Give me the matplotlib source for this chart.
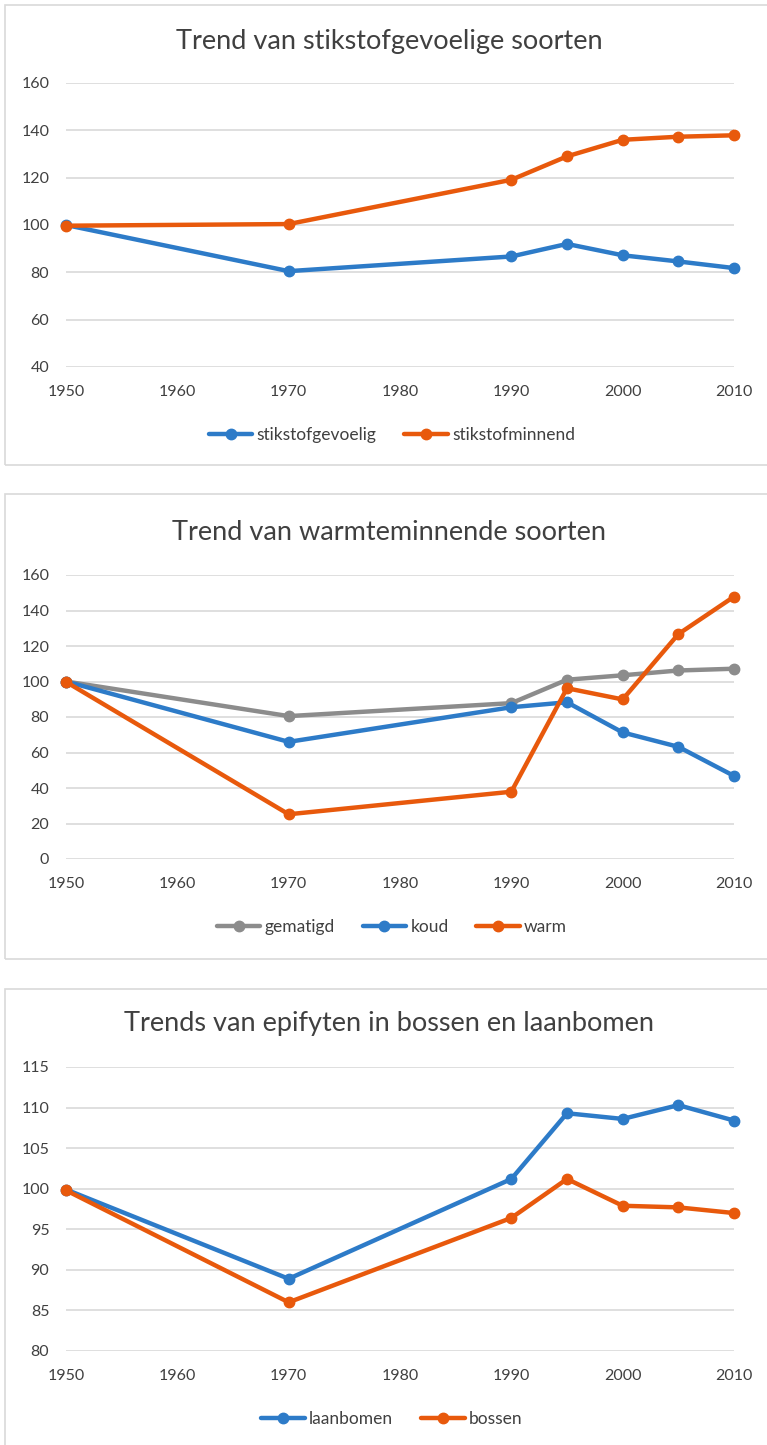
import matplotlib
matplotlib.use("Agg")
import matplotlib.pyplot as plt
from matplotlib.patches import Rectangle

plt.rcParams['font.family'] = ['Lato', 'DejaVu Sans']

W, H = 767, 1445
DPI = 100

years = [1950, 1970, 1990, 1995, 2000, 2005, 2010]

# Panel 1
title1 = "Trend van stikstofgevoelige soorten"
stikstofgevoelig = [100, 80.5, 86.7, 92.0, 87.2, 84.6, 81.8]
stikstofminnend = [99.7, 100.4, 119.1, 129.0, 136.0, 137.3, 137.9]
yticks1 = [40, 60, 80, 100, 120, 140, 160]

# Panel 2
title2 = "Trend van warmteminnende soorten"
gematigd = [100, 80.5, 87.8, 101.0, 103.5, 106.2, 107.2]
koud = [100, 66.0, 85.5, 88.3, 71.3, 63.2, 46.8]
warm = [99.8, 25.2, 37.9, 96.2, 89.9, 126.7, 147.8]
yticks2 = [0, 20, 40, 60, 80, 100, 120, 140, 160]

# Panel 3
title3 = "Trends van epifyten in bossen en laanbomen"
laanbomen = [99.9, 88.9, 101.2, 109.3, 108.6, 110.3, 108.4]
bossen = [99.8, 86.0, 96.4, 101.2, 97.9, 97.7, 97.0]
yticks3 = [80, 85, 90, 95, 100, 105, 110, 115]

xticks = [1950, 1960, 1970, 1980, 1990, 2000, 2010]

BLUE = '#2D7BC8'
ORANGE = '#E8590C'
GRAY = '#8C8C8C'
TXT = '#404040'
GRID = '#D9D9D9'

fig = plt.figure(figsize=(W / DPI, H / DPI), dpi=DPI)
fig.patch.set_facecolor('white')


def fx(px):
    return px / W


def fy(py):
    return 1 - py / H


def panel_box(top, bottom):
    r = Rectangle((fx(5), fy(bottom)), fx(W + 20) - fx(5), fy(top) - fy(bottom),
                  transform=fig.transFigure, fill=False, edgecolor=GRID,
                  linewidth=1.2, zorder=0)
    fig.patches.append(r)


def panel(top_px, bottom_px, title, title_y, series, yticks, legend_y):
    left, right = 66, 734
    ax = fig.add_axes([fx(left), fy(bottom_px), fx(right) - fx(left), (bottom_px - top_px) / H])
    for name, vals, col in series:
        ax.plot(years, vals, color=col, linewidth=3.2, marker='o', markersize=7.5,
                label=name, solid_capstyle='round', zorder=3, clip_on=False)
    ax.set_xlim(1950, 2010)
    ax.set_ylim(yticks[0], yticks[-1])
    ax.set_xticks(xticks)
    ax.set_yticks(yticks)
    ax.yaxis.grid(True, color=GRID, linewidth=1.2)
    ax.set_axisbelow(True)
    for s in ax.spines.values():
        s.set_visible(False)
    ax.tick_params(axis='both', length=0, labelsize=11.5, colors=TXT)
    ax.tick_params(axis='y', pad=12)
    ax.tick_params(axis='x', pad=13)
    fig.text(fx(389), fy(title_y), title, ha='center', va='center',
             fontsize=19.5, color=TXT)
    fig.legend(handles=ax.get_lines(), loc='center', bbox_to_anchor=(fx(392), fy(legend_y)),
               ncol=len(series), frameon=False, fontsize=12.5, handlelength=2.5,
               handletextpad=0.25, columnspacing=1.6, labelcolor=TXT)
    return ax


panel_box(5, 465)
panel_box(494, 959)
panel_box(989, H + 20)

panel(83, 367, title1, 42,
      [("stikstofgevoelig", stikstofgevoelig, BLUE), ("stikstofminnend", stikstofminnend, ORANGE)],
      yticks1, 435)
panel(575, 859, title2, 532,
      [("gematigd", gematigd, GRAY), ("koud", koud, BLUE), ("warm", warm, ORANGE)],
      yticks2, 927)
panel(1067, 1351, title3, 1023,
      [("laanbomen", laanbomen, BLUE), ("bossen", bossen, ORANGE)],
      yticks3, 1419)

fig.savefig("out.png", dpi=DPI, facecolor='white')
